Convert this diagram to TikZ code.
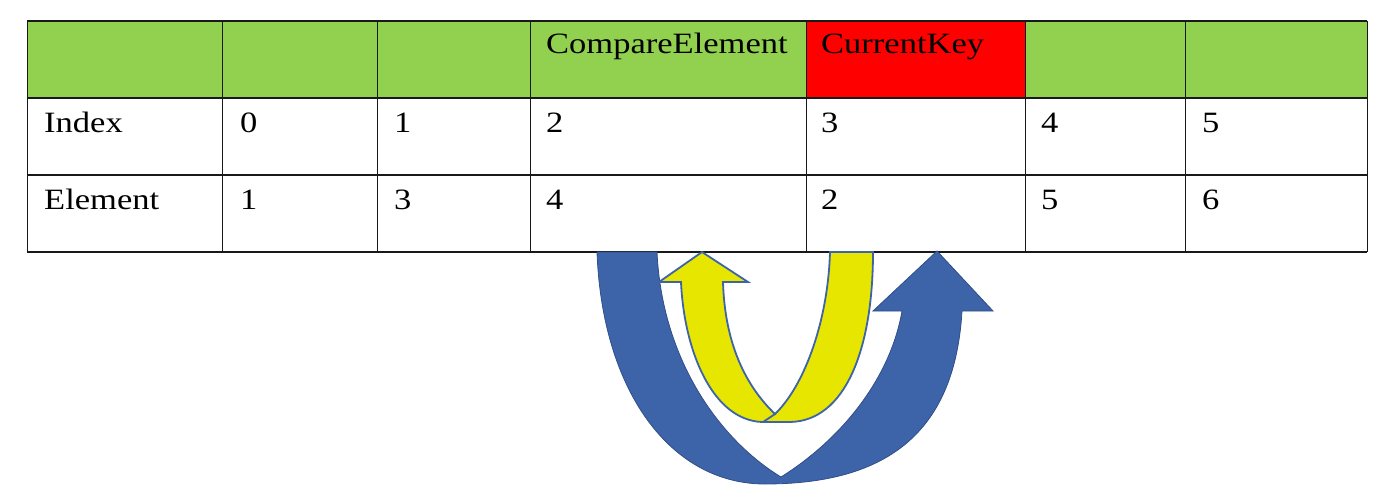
\documentclass[tikz,border=0pt]{standalone}
\usepackage{fontspec}
\setmainfont[FakeStretch=1.17]{Liberation Serif}
\definecolor{tgreen}{HTML}{92D050}
\definecolor{tred}{HTML}{FF0000}
\definecolor{tblue}{HTML}{3D63A9}
\definecolor{tyellow}{HTML}{E6E600}
\tikzset{
  cell/.style={anchor=base west,inner sep=0pt,font=\fontsize{29.5}{35}\selectfont,text=black},
  hline/.style={line width=2pt,black!90},
  vline/.style={line width=1pt,black!90},
  bluearrow/.style={fill=tblue,draw=tblue!80!black,line width=0.8pt,line join=miter},
  yellowarrow/.style={fill=tyellow,draw=tblue,line width=1.8pt,line join=miter}
}
\begin{document}
\begin{tikzpicture}[x=1pt,y=-1pt]
\useasboundingbox (0,0) rectangle (1400,498);
% header fills
\fill[tgreen] (27,21) rectangle (1367,98);
\fill[tred] (806,21) rectangle (1025,98);
% grid
\foreach \yy in {21,98,175,252} \draw[hline] (27,\yy) -- (1367,\yy);
\foreach \xx in {27,222,377,530,806,1025,1185,1367} \draw[vline] (\xx,21) -- (\xx,252);
% header texts
\node[cell] (hce) at (546,53) {CompareElement};
\node[cell] (hck) at (821,53) {CurrentKey};
% index row
\node[cell] (ilab) at (44,132) {Index};
\node[cell] (i0) at (240,132) {0};
\node[cell] (i1) at (394,132) {1};
\node[cell] (i2) at (546,132) {2};
\node[cell] (i3) at (821,132) {3};
\node[cell] (i4) at (1041,132) {4};
\node[cell] (i5) at (1202,132) {5};
% element row
\node[cell] (elab) at (44,209) {Element};
\node[cell] (e0) at (240,209) {1};
\node[cell] (e1) at (394,209) {3};
\node[cell] (e2) at (546,209) {4};
\node[cell] (e3) at (821,209) {2};
\node[cell] (e4) at (1041,209) {5};
\node[cell] (e5) at (1202,209) {6};
% blue curved arrow
\path[bluearrow] (597,252) -- (657,252)
  .. controls (662,360) and (720,440) .. (781,477)
  .. controls (840,440) and (890,380) .. (902,311)
  -- (873,311) -- (937,251) -- (993,311) -- (962,311)
  .. controls (955,430) and (890,484) .. (765,484)
  .. controls (670,484) and (602,390) .. (597,252) -- cycle;
% yellow curved arrow
\path[yellowarrow] (830,252) -- (873,252)
  .. controls (873,350) and (845,421) .. (790,422)
  -- (762,422)
  .. controls (712,420) and (684,350) .. (681,282)
  -- (659,282) -- (702,252) -- (748,282) -- (723,282)
  .. controls (725,350) and (750,390) .. (775,414)
  .. controls (805,385) and (828,320) .. (830,252) -- cycle;
\draw[tblue,line width=1.8pt] (775,414) -- (763,422);
\end{tikzpicture}
\end{document}
